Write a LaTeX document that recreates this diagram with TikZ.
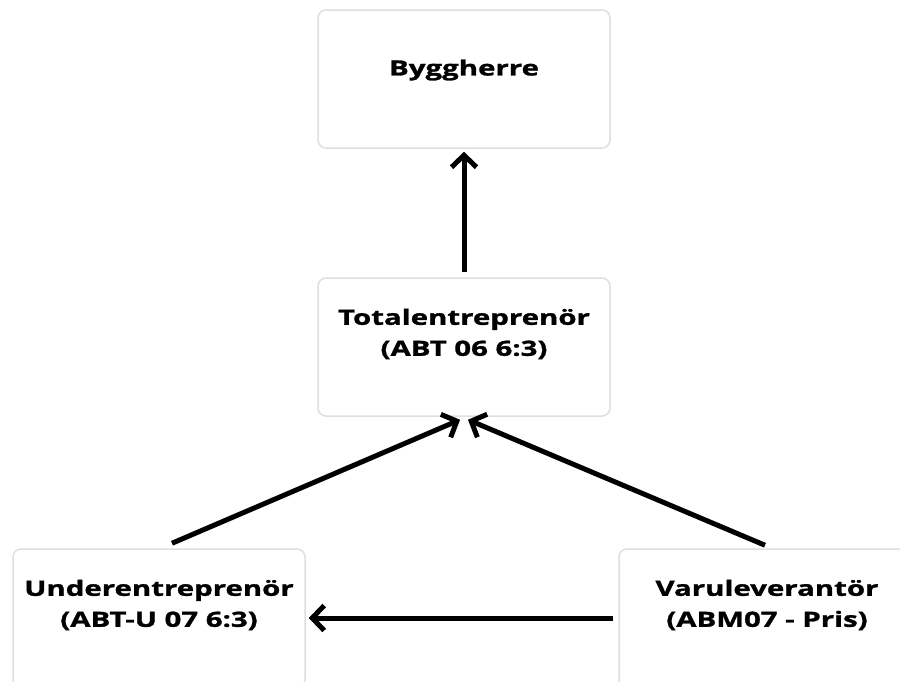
\documentclass[tikz,border=0pt]{standalone}
\usepackage{fontspec}
\setmainfont[FakeStretch=1.4, BoldFeatures={FakeBold=1.3}]{Open Sans}
\usetikzlibrary{arrows.meta}
\tikzset{
  boks/.style={draw=black!13, line width=1.5pt, rounded corners=8pt, minimum width=292pt, minimum height=138pt, inner sep=0pt},
  etikett/.style={font=\fontsize{21}{31}\selectfont\bfseries, align=center},
  pil/.style={->, line width=5pt}
}
\begin{document}
\begin{tikzpicture}[>={Straight Barb[length=12pt,width=25pt]}, x=1pt, y=-1pt]
	\useasboundingbox (0,0) rectangle (900,681);
	% rutor
	\node[boks] (bygg) at (464,79) {};
	\node[boks] (total) at (464,347) {};
	\node[boks] (under) at (159,618) {};
	\node[boks] (varu) at (765,618) {};
	% texter
	\node[etikett] (byggtxt) at ([yshift=9pt]bygg.center) {Byggherre};
	\node[etikett] (totaltxt) at ([yshift=13pt]total.center) {Totalentreprenör\\(ABT 06 6:3)};
	\node[etikett] (undertxt) at ([yshift=13pt]under.center) {Underentreprenör\\(ABT-U 07 6:3)};
	\node[etikett] (varutxt) at ([xshift=2pt,yshift=13pt]varu.center) {Varuleverantör\\(ABM07 - Pris)};
	% pilar
	\draw[pil] ([yshift=5pt]total.north) -- ([yshift=-3pt]bygg.south);
	\draw[pil] ([xshift=13pt,yshift=5pt]under.north) -- ([xshift=-4pt,yshift=-3pt]total.south);
	\draw[pil] ([yshift=3pt]varu.north) -- ([xshift=4pt,yshift=-3pt]total.south);
	\draw[pil] ([xshift=-5pt]varu.west) -- ([xshift=3pt]under.east);
\end{tikzpicture}
\end{document}
